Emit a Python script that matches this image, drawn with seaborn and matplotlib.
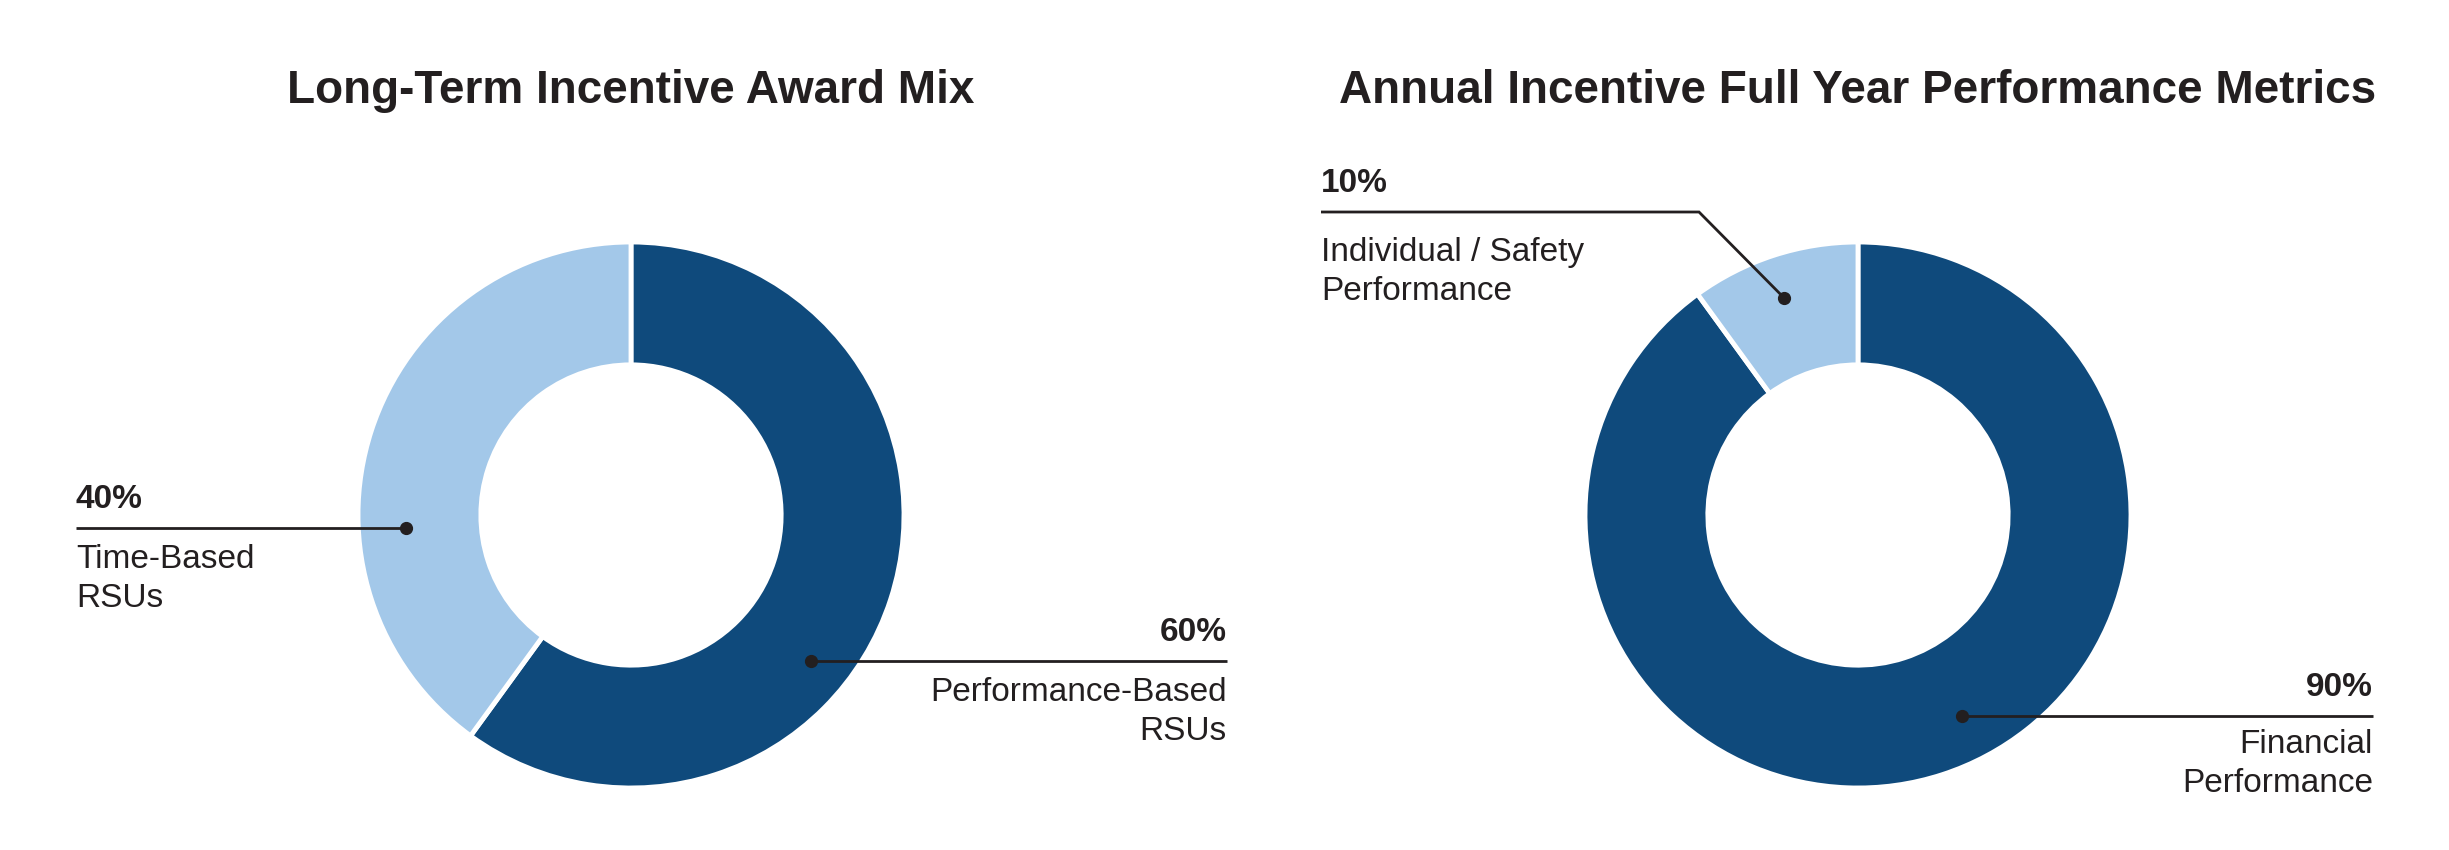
import matplotlib
matplotlib.use("Agg")
import matplotlib.pyplot as plt
import seaborn as sns
import numpy as np

# ---------------- data ----------------
titles = ["Long-Term Incentive Award Mix",
          "Annual Incentive Full Year Performance Metrics"]
lti_labels = ["Performance-Based\nRSUs", "Time-Based\nRSUs"]
lti_values = [60, 40]
aip_labels = ["Financial\nPerformance", "Individual / Safety\nPerformance"]
aip_values = [90, 10]
pct_labels_lti = ["60%", "40%"]
pct_labels_aip = ["90%", "10%"]

DARK = "#0F4A7C"
LIGHT = "#A3C8E9"
INK = "#231F20"

sns.set_theme(style="white")
palette = sns.color_palette([DARK, LIGHT])
plt.rcParams["font.family"] = ["Liberation Sans", "DejaVu Sans"]

W, H = 2449, 850
fig = plt.figure(figsize=(W / 100, H / 100), dpi=100)
fig.patch.set_facecolor("white")

R = 273
donuts = [
    dict(cx=631, cy=515, title=titles[0], values=lti_values, labels=lti_labels,
         pcts=pct_labels_lti,
         ann=[
             dict(ang=-39, r=0.85, elbow=None, end=1227, side="right", gap=40),
             dict(ang=183.3, r=0.825, elbow=None, end=76, side="left", gap=40),
         ]),
    dict(cx=1858, cy=515, title=titles[1], values=aip_values, labels=aip_labels,
         pcts=pct_labels_aip,
         ann=[
             dict(ang=-62.6, r=0.83, elbow=None, end=2373, side="right", gap=37),
             dict(ang=108.8, r=0.84, elbow=(1699, 212), end=1321, side="left", gap=49),
         ]),
]

FS = 24
LINE_STEP = 39
for d in donuts:
    cx, cy = d["cx"], d["cy"]
    ax = fig.add_axes([(cx - R) / W, (H - cy - R) / H, 2 * R / W, 2 * R / H])
    ax.pie(d["values"], colors=palette, startangle=90, counterclock=False,
           radius=1, wedgeprops=dict(width=0.45, edgecolor="white", linewidth=3.5))
    ax.set_xlim(-1, 1)
    ax.set_ylim(-1, 1)
    ax.set_aspect("equal")
    ax.axis("off")

    def px2d(px, py):
        return (px - cx) / R, (cy - py) / R

    for a, lab, pct in zip(d["ann"], d["labels"], d["pcts"]):
        t = np.deg2rad(a["ang"])
        dx, dy = a["r"] * np.cos(t), a["r"] * np.sin(t)
        endx, _ = px2d(a["end"], 0)
        if a["elbow"] is not None:
            ex, ey = px2d(*a["elbow"])
            xs, ys = [dx, ex, endx], [dy, ey, ey]
            line_y = ey
        else:
            xs, ys = [dx, endx], [dy, dy]
            line_y = dy
        ax.plot(xs, ys, color=INK, lw=2.0, clip_on=False, solid_capstyle="butt",
                solid_joinstyle="miter")
        ax.plot([dx], [dy], "o", color=INK, ms=8.5, clip_on=False)
        ha = "right" if a["side"] == "right" else "left"
        ax.text(endx, line_y + 20 / R, pct, ha=ha, va="baseline", fontsize=FS,
                fontweight="bold", color=INK, clip_on=False)
        for i, line in enumerate(lab.split("\n")):
            ax.text(endx, line_y - (a["gap"] + i * LINE_STEP) / R, line, ha=ha,
                    va="baseline", fontsize=FS, color=INK, clip_on=False)

    fig.text(cx / W, (H - 103) / H, d["title"], ha="center", va="baseline",
             fontsize=33, fontweight="bold", color=INK)

fig.savefig("out.png", dpi=100, facecolor="white")
